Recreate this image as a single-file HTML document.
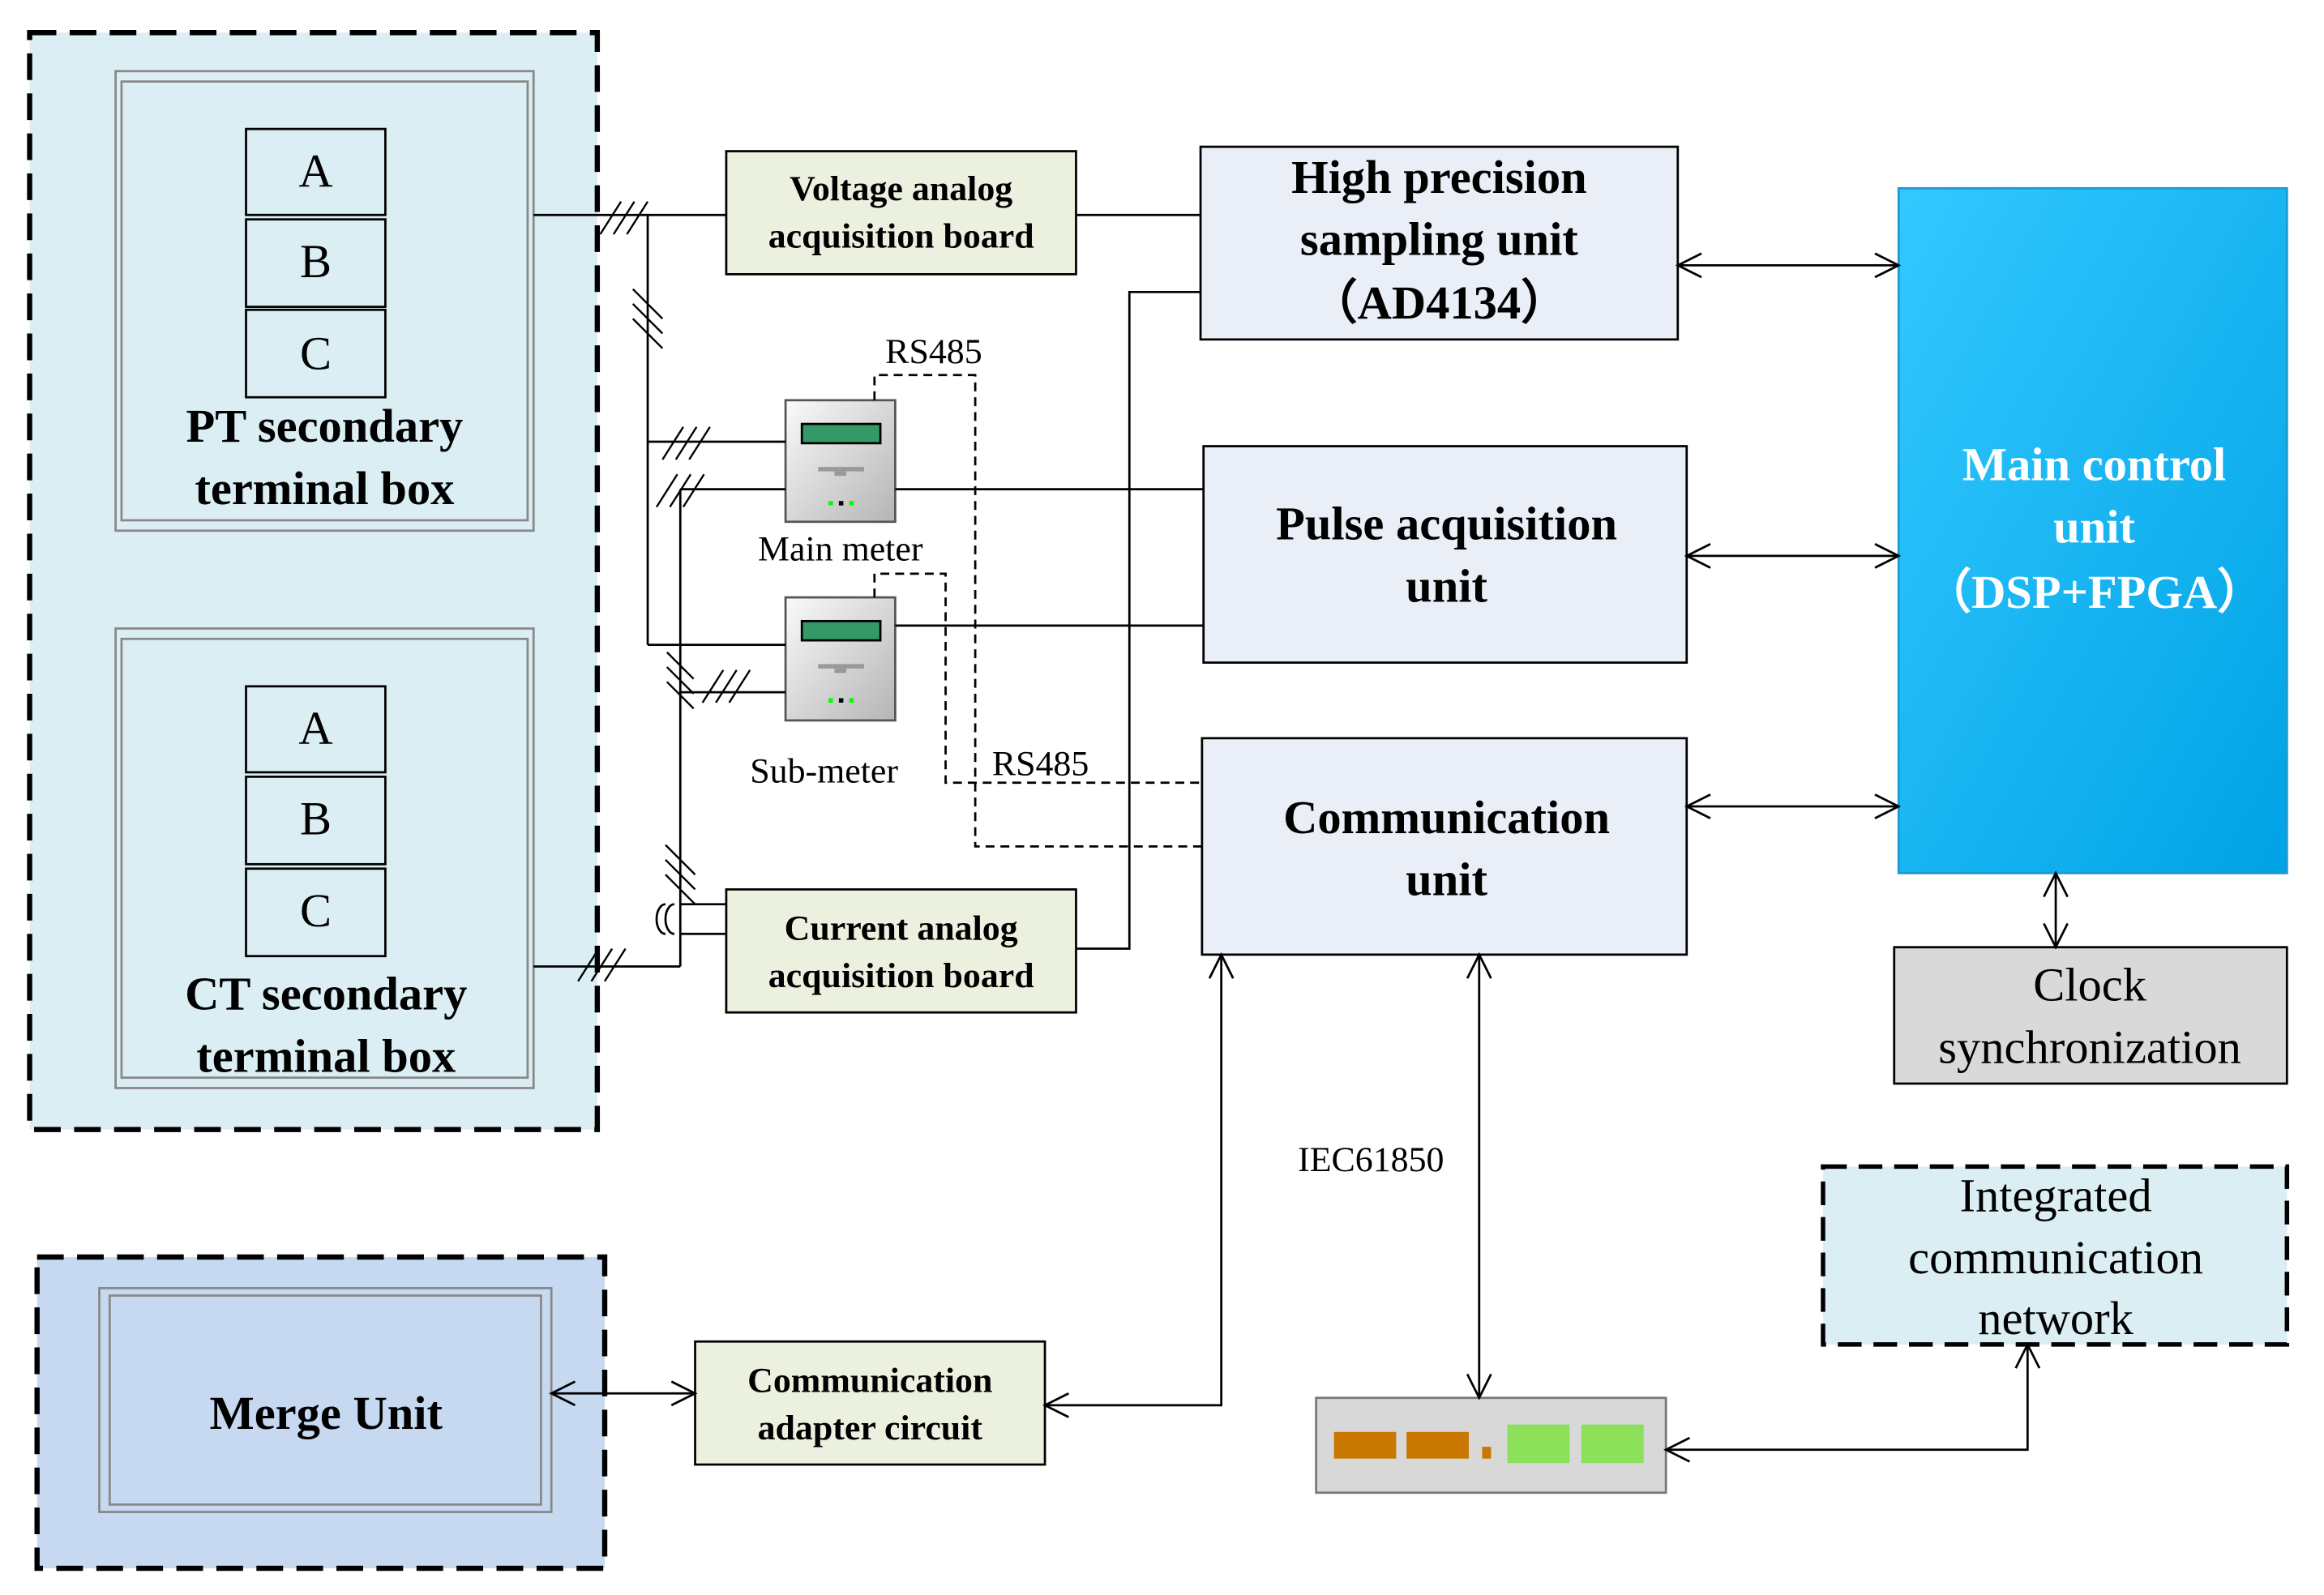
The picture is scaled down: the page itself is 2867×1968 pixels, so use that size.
<!DOCTYPE html>
<html><head><style>html,body{margin:0;padding:0;background:#fff}svg{display:block}</style></head><body>
<svg width="2867" height="1968" viewBox="0 0 1568 1076" preserveAspectRatio="none" xmlns="http://www.w3.org/2000/svg" font-family="Liberation Serif, serif">
<defs>
<linearGradient id="mc" x1="0" y1="0" x2="1" y2="1"><stop offset="0" stop-color="#33c8ff"/><stop offset="1" stop-color="#00a3e6"/></linearGradient>
<linearGradient id="mt" x1="0" y1="0" x2="1" y2="1"><stop offset="0" stop-color="#fafafa"/><stop offset="1" stop-color="#b5b5b5"/></linearGradient>
</defs>
<g stroke="#000" stroke-width="1.5" fill="none">
<rect x="20" y="22" width="383" height="740" fill="#dbeef3" stroke-width="3.5" stroke-dasharray="18,9"/>
<rect x="78" y="48" width="282" height="310" fill="#dbeef3" stroke="#888"/>
<rect x="82" y="55" width="274" height="296" stroke="#888"/>
<rect x="78" y="424" width="282" height="310" fill="#dbeef3" stroke="#888"/>
<rect x="82" y="431" width="274" height="296" stroke="#888"/>
<rect x="166" y="87" width="94" height="58"/><rect x="166" y="148" width="94" height="59"/><rect x="166" y="209" width="94" height="59"/>
<rect x="166" y="463" width="94" height="58"/><rect x="166" y="524" width="94" height="59"/><rect x="166" y="586" width="94" height="59"/>
<rect x="25" y="848" width="383" height="210" fill="#c6d9f1" stroke-width="3.5" stroke-dasharray="18,9"/>
<rect x="67" y="869" width="305" height="151" fill="#c6d9f1" stroke="#888"/>
<rect x="74" y="874" width="291" height="141" stroke="#888"/>
<rect x="490" y="102" width="236" height="83" fill="#ebf1de"/>
<rect x="490" y="600" width="236" height="83" fill="#ebf1de"/>
<rect x="469" y="905" width="236" height="83" fill="#ebf1de"/>
<rect x="810" y="99" width="322" height="130" fill="#eaeef6"/>
<rect x="812" y="301" width="326" height="146" fill="#eaeef6"/>
<rect x="811" y="498" width="327" height="146" fill="#eaeef6"/>
<rect x="1281" y="127" width="262" height="462" fill="url(#mc)" stroke="#1a9ad0"/>
<rect x="1278" y="639" width="265" height="92" fill="#d9d9d9"/>
<rect x="1230" y="787" width="313" height="120" fill="#dbeef3" stroke-width="3" stroke-dasharray="16,8"/>
<rect x="530" y="270" width="74" height="82" fill="url(#mt)" stroke="#555"/>
<rect x="541" y="286" width="53" height="13" fill="#339966" stroke="#000"/>
<rect x="530" y="403" width="74" height="83" fill="url(#mt)" stroke="#555"/>
<rect x="541" y="419" width="53" height="13" fill="#339966" stroke="#000"/>
<rect x="888" y="943" width="236" height="64" fill="#d8d8d8" stroke="#777"/>
<path d="M360,145H490M726,145H810M437,145V435M437,298H530M437,435H530M459,330V652M459,330H530M459,467H530M360,652H459M726,640H762V197H810M604,330H812M604,422H812M459,610H490M459,630H490"/>
<path d="M449,610a6,10 0 0,0 0,20M455,610a6,10 0 0,0 0,20" />
<path d="M405,158l14,-22M414,158l14,-22M423,158l14,-22M427,195l20,20M427,205l20,20M427,215l20,20M447,310l14,-22M456,310l14,-22M465,310l14,-22M443,342l14,-22M452,342l14,-22M461,342l14,-22M450,440l18,18M450,450l18,18M450,460l18,18M474,474l14,-22M483,474l14,-22M492,474l14,-22M449,570l20,20M449,580l20,20M449,590l20,20M390,662l14,-22M399,662l14,-22M408,662l14,-22" stroke-width="1.3"/>
<path d="M590,270V253H658V571H811M590,403V387H638V528H811" stroke-dasharray="6,4"/>
<path d="M1132,179H1281M1138,375H1281M1138,544H1281M1387,589V639M998,644V943M372,940H469M705,948H824V644M1124,978H1368V907"/>
<!-- arrowheads -->
<path d="M1148,171L1132,179L1148,187M1265,171L1281,179L1265,187M1154,367L1138,375L1154,383M1265,367L1281,375L1265,383M1154,536L1138,544L1154,552M1265,536L1281,544L1265,552M1379,605L1387,589L1395,605M1379,623L1387,639L1395,623M990,660L998,644L1006,660M990,927L998,943L1006,927M388,932L372,940L388,948M453,932L469,940L453,948M721,940L705,948L721,956M816,660L824,644L832,660M1140,970L1124,978L1140,986M1360,923L1368,907L1376,923"/>
</g>
<g fill="#999"><rect x="552" y="315" width="31" height="3"/><rect x="563" y="318" width="8" height="3"/><rect x="552" y="448" width="31" height="3"/><rect x="563" y="451" width="8" height="3"/></g>
<g fill="#0f0"><rect x="559" y="338" width="3" height="3"/><rect x="573" y="338" width="3" height="3"/><rect x="559" y="471" width="3" height="3"/><rect x="573" y="471" width="3" height="3"/></g>
<rect x="566" y="338" width="3" height="3"/><rect x="566" y="471" width="3" height="3"/>
<g fill="#c87800"><rect x="900" y="966" width="42" height="18"/><rect x="949" y="966" width="42" height="18"/><rect x="1000" y="976" width="6" height="8"/></g>
<g fill="#8de05a"><rect x="1017" y="961" width="42" height="26"/><rect x="1067" y="961" width="42" height="26"/></g>
<g font-size="32" text-anchor="middle" font-weight="bold">
<text x="213" y="126" font-weight="normal">A</text><text x="213" y="187" font-weight="normal">B</text><text x="213" y="249" font-weight="normal">C</text>
<text x="213" y="502" font-weight="normal">A</text><text x="213" y="563" font-weight="normal">B</text><text x="213" y="625" font-weight="normal">C</text>
<text x="219" y="298">PT secondary</text><text x="219" y="340">terminal box</text>
<text x="220" y="681">CT secondary</text><text x="220" y="723">terminal box</text>
<text x="220" y="964">Merge Unit</text>
<text x="971" y="130">High precision</text><text x="971" y="172">sampling unit</text><text x="971" y="215">（AD4134）</text>
<text x="976" y="364">Pulse acquisition</text><text x="976" y="406">unit</text>
<text x="976" y="562">Communication</text><text x="976" y="604">unit</text>
<text x="1413" y="324" fill="#fff">Main control</text><text x="1413" y="366" fill="#fff">unit</text><text x="1413" y="410" fill="#fff">（DSP+FPGA）</text>
</g>
<g font-size="24" text-anchor="middle" font-weight="bold">
<text x="608" y="135">Voltage analog</text><text x="608" y="167">acquisition board</text>
<text x="608" y="634">Current analog</text><text x="608" y="666">acquisition board</text>
<text x="587" y="939">Communication</text><text x="587" y="971">adapter circuit</text>
</g>
<g font-size="32" text-anchor="middle">
<text x="1410" y="675">Clock</text><text x="1410" y="717">synchronization</text>
<text x="1387" y="817">Integrated</text><text x="1387" y="859">communication</text><text x="1387" y="900">network</text>
</g>
<g font-size="24" text-anchor="middle">
<text x="630" y="245">RS485</text><text x="702" y="523">RS485</text>
<text x="567" y="378">Main meter</text><text x="556" y="528">Sub-meter</text>
<text x="925" y="790">IEC61850</text>
</g>
</svg>
</body></html>
